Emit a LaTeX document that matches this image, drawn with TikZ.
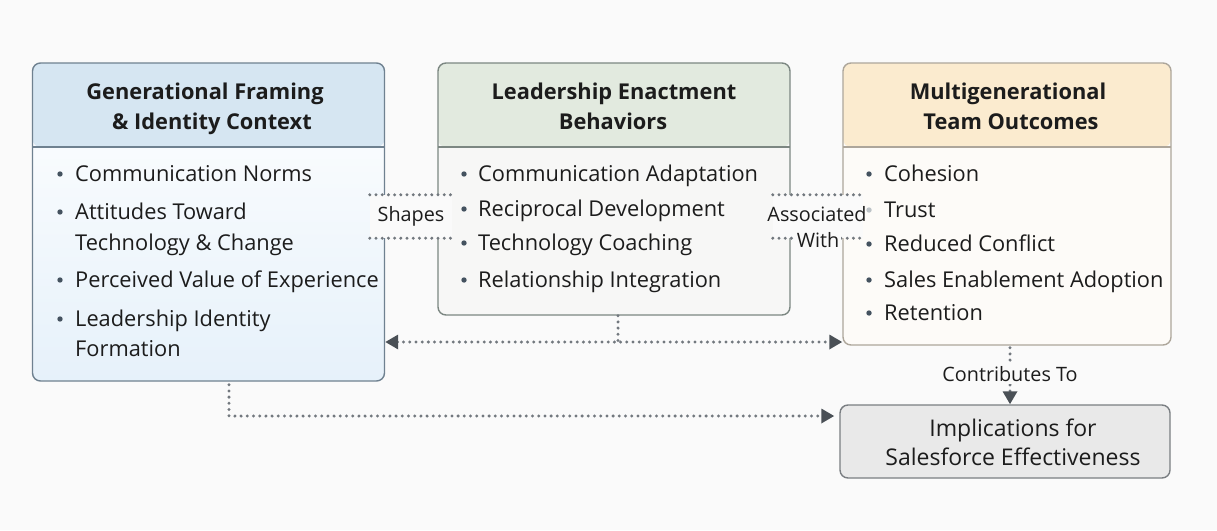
\documentclass[tikz,border=0pt]{standalone}
\usepackage{fontspec}
\setmainfont{Open Sans}
\usetikzlibrary{arrows.meta}
\definecolor{bg}{HTML}{FAFAFA}
\definecolor{txt}{HTML}{1C1C1C}
\definecolor{bul}{HTML}{44525F}
\definecolor{dotc}{HTML}{72787E}
\definecolor{arrc}{HTML}{4A5056}
\definecolor{bordA}{HTML}{6F8190}
\definecolor{hdrA}{HTML}{D6E6F2}
\definecolor{bodyA}{HTML}{E6F1FA}
\definecolor{bordB}{HTML}{7C8782}
\definecolor{hdrB}{HTML}{E2EADF}
\definecolor{bodyB}{HTML}{F7F7F6}
\definecolor{bordC}{HTML}{ADA69B}
\definecolor{hdrC}{HTML}{FBEBCF}
\definecolor{bodyC}{HTML}{FDFBF8}
\definecolor{bordD}{HTML}{7A7E82}
\definecolor{fillD}{HTML}{E9E9E9}
\begin{document}
\begin{tikzpicture}[x=1pt,y=-1pt,
  box/.style={rounded corners=8pt, line width=1.4pt, inner sep=0pt},
  hdr/.style 2 args={path picture={
     \fill[#1] (path picture bounding box.north west) rectangle ([yshift=-84pt]path picture bounding box.north east);
     \draw[#2, line width=1.4pt] ([yshift=-84pt]path picture bounding box.north west) -- ([yshift=-84pt]path picture bounding box.north east);}},
  head/.style={font=\bfseries\fontsize{21.8}{25}\selectfont, text=txt, inner sep=0pt, anchor=mid},
  item/.style={font=\fontsize{21.8}{26}\selectfont, text=txt, inner sep=0pt, anchor=mid west},
  lbl/.style={font=\fontsize{19.8}{22}\selectfont, text=txt, inner sep=2pt},
  dotline/.style={draw=dotc, line width=3.3pt, line cap=round, dash pattern=on 0pt off 6.2pt},
  tip/.style={-{Triangle[length=13pt,width=14pt,color=arrc]}},
  tips/.style={{Triangle[length=13pt,width=14pt,color=arrc]}-{Triangle[length=13pt,width=14pt,color=arrc]}}
]
\fill[bg] (0,0) rectangle (1217,530);
\useasboundingbox (0,0) rectangle (1217,530);

% boxes
\node[box, draw=bordA, top color=white, bottom color=bodyA, minimum width=352, minimum height=318, hdr={hdrA}{bordA}] (b1) at (208.5,222) {};
\node[box, draw=bordB, fill=bodyB, minimum width=352, minimum height=252, hdr={hdrB}{bordB}] (b2) at (614,189) {};
\node[box, draw=bordC, fill=bodyC, minimum width=328, minimum height=282, hdr={hdrC}{bordC}] (b3) at (1007,204) {};
\node[box, draw=bordD, fill=fillD, minimum width=330, minimum height=73] (b4) at (1005,441.5) {};

% headers
\node[head] (h1a) at (205,97) {Generational Framing};
\node[head] (h1b) at (212,127) {\& Identity Context};
\node[head] (h2a) at (614,97) {Leadership Enactment};
\node[head] (h2b) at (613,127) {Behaviors};
\node[head] (h3a) at (1008,97) {Multigenerational};
\node[head] (h3b) at (1011,127) {Team Outcomes};

% items box 1
\foreach \y in {174,212,280,319} \fill[bul] (60,\y) circle (2.7pt);
\node[item] (i11) at (75,179) {Communication Norms};
\node[item] (i12) at (75,217) {Attitudes Toward};
\node[item] (i12b) at (75,248) {Technology \& Change};
\node[item] (i13) at (75,285) {Perceived Value of Experience};
\node[item] (i14) at (75,324) {Leadership Identity};
\node[item] (i14b) at (75,354) {Formation};

% items box 2
\foreach \y in {174,209,243,280} \fill[bul] (464,\y) circle (2.7pt);
\node[item] (i21) at (478,179) {Communication Adaptation};
\node[item] (i22) at (478,214) {Reciprocal Development};
\node[item] (i23) at (478,248) {Technology Coaching};
\node[item] (i24) at (478,285) {Relationship Integration};

% items box 3
\foreach \y in {174,244,280,313} \fill[bul] (869,\y) circle (2.7pt);
\fill[bul!35] (869,210) circle (2.7pt);
\node[item] (i31) at (884,179) {Cohesion};
\node[item] (i32) at (884,215) {Trust};
\node[item] (i33) at (884,249) {Reduced Conflict};
\node[item] (i34) at (884,285) {Sales Enablement Adoption};
\node[item] (i35) at (884,318) {Retention};

% box 4 text
\node[font=\fontsize{23}{29}\selectfont, text=txt, align=center, inner sep=0pt] (b4t) at (1013,442) {Implications for\\Salesforce Effectiveness};

% Shapes connector
\node[lbl, fill=bg, minimum width=82, minimum height=43, inner sep=0pt] (shp) at (411,216.5) {Shapes};
\draw[dotline] (shp.north west) -- (shp.north east);
\draw[dotline] (shp.south west) -- (shp.south east);

% Associated With connector
\node[fill=bg, minimum width=90, minimum height=43, inner sep=0pt] (asc) at (818,216.5) {};
\draw[dotline] (asc.north west) -- (asc.north east);
\draw[dotline] (asc.south west) -- (asc.south east);
\node[lbl, inner sep=0pt] (asct) at (817,214) {Associated};
\node[lbl, fill=bg, inner sep=2pt] (ascw) at (818,240) {With};

% bottom connectors
\coordinate (j) at (618,342);
\draw[dotline] (b2.south -| j) -- (j);
\draw[dotline, tips] (b1.east |- j) -- (b3.west |- j);

\coordinate (k) at (229,416);
\draw[dotline, tip, shorten <=3pt, shorten >=5pt] (b1.south -| k) -- (k) -- (b4.west |- k);

\coordinate (ctc) at (1010,374);
\draw[dotline, tip, shorten <=2pt] (b3.south -| ctc) -- (b4.north -| ctc);
\node[lbl, fill=bg] (ct) at (ctc) {Contributes To};
\end{tikzpicture}
\end{document}
